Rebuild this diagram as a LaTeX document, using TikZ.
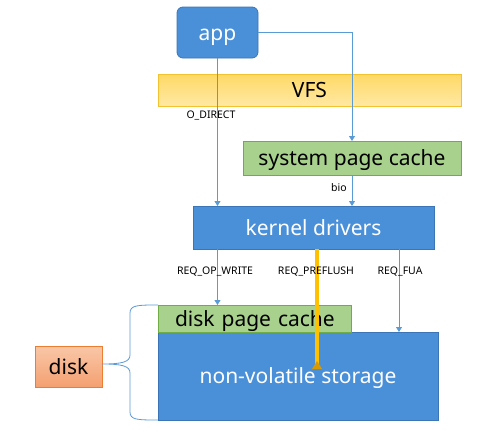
\documentclass[tikz,border=0pt]{standalone}
\usepackage{fontspec}
\setmainfont{Noto Sans}
\usetikzlibrary{arrows.meta}
\definecolor{bluefill}{HTML}{4A90D9}
\definecolor{blueedge}{HTML}{3B75B5}
\definecolor{conncol}{HTML}{5B9BD5}
\definecolor{greenfill}{HTML}{A9D18E}
\definecolor{greenedge}{HTML}{70AD47}
\definecolor{goldedge}{HTML}{F2C230}
\definecolor{goldtop}{HTML}{FFD966}
\definecolor{goldbot}{HTML}{FFE8A3}
\definecolor{orangeedge}{HTML}{ED7D31}
\definecolor{salmontop}{HTML}{F9C7A8}
\definecolor{salmonbot}{HTML}{F4A070}
\definecolor{flushcol}{HTML}{FFC000}
\definecolor{flushedge}{HTML}{D99A00}
\tikzset{
  box/.style={draw, line width=0.8pt, inner sep=0pt, outer sep=0pt, align=center,
    font=\fontsize{21}{23}\selectfont, text height=15pt, text depth=0pt},
  bluebox/.style={box, fill=bluefill, draw=blueedge, text=white},
  greenbox/.style={box, fill=greenfill, draw=greenedge, text=black},
  conn/.style={draw=conncol, line width=0.8pt},
  connarrow/.style={conn, -{Triangle[width=6pt,length=5pt]}},
  lbl/.style={font=\fontsize{10.5}{12}\selectfont, text=black, inner sep=0pt}
}
\begin{document}
\begin{tikzpicture}[x=1pt,y=-1pt]
\useasboundingbox (0,0) rectangle (501,431);
% nodes
\node[bluebox, rounded corners=6pt, minimum width=81pt, minimum height=51pt] (app) at (217.5,32.5) {app};
\node[box, draw=goldedge, top color=goldtop, bottom color=goldbot, minimum width=303pt, minimum height=32pt] (vfs) at (309.5,90) {VFS};
\node[greenbox, minimum width=218pt, minimum height=34pt] (spc) at (352,158) {system page cache};
\node[bluebox, minimum width=241pt, minimum height=43pt] (kd) at (313.5,227.5) {kernel drivers};
\node[bluebox, minimum width=280pt, minimum height=88pt] (nvs) at (298,376) {non-volatile storage};
\node[greenbox, minimum width=193pt, minimum height=27pt, anchor=north west, text width=187pt, align=left] (dpc) at (158,305) {\hspace*{14pt}disk page cache};
\node[box, draw=orangeedge, top color=salmontop, bottom color=salmonbot, minimum width=67pt, minimum height=41pt] (disk) at (68.5,366.5) {disk};
% connectors
\draw[connarrow] (app.south) -- (app.south |- kd.north);
\draw[connarrow] (app.east) -| (spc.north);
\draw[connarrow] (spc.south) -- (spc.south |- kd.north);
\draw[connarrow] (app.south |- kd.south) -- (app.south |- dpc.north);
\coordinate (fua) at (399,249);
\draw[connarrow] (fua |- kd.south) -- (fua |- nvs.north);
\coordinate (flushend) at (317,361);
\draw[draw=flushedge, line width=0.6pt, double=flushcol, double distance=3.6pt] (flushend |- kd.south) -- ([yshift=-7pt]flushend);
\fill[flushedge] ([xshift=-5pt,yshift=-8pt]flushend) -- ([xshift=5pt,yshift=-8pt]flushend) -- (flushend) -- cycle;
% labels
\node[lbl] (odirect) at (211,116) {O\_DIRECT};
\node[lbl] (bio) at (339,188) {bio};
\node[lbl] (reqw) at (215,272) {REQ\_OP\_WRITE};
\node[lbl] (reqp) at (316,272) {REQ\_PREFLUSH};
\node[lbl] (reqf) at (400,272) {REQ\_FUA};
% brace
\coordinate (tip) at (102,364);
\draw[conn] (dpc.north west) .. controls (138,305) and (130,305) .. (130,313) -- (130,355) .. controls (130,362) and (122,364) .. (tip)
  .. controls (122,364) and (130,366) .. (130,373) -- (130,412) .. controls (130,420) and (138,420) .. (nvs.south west);
\end{tikzpicture}
\end{document}
